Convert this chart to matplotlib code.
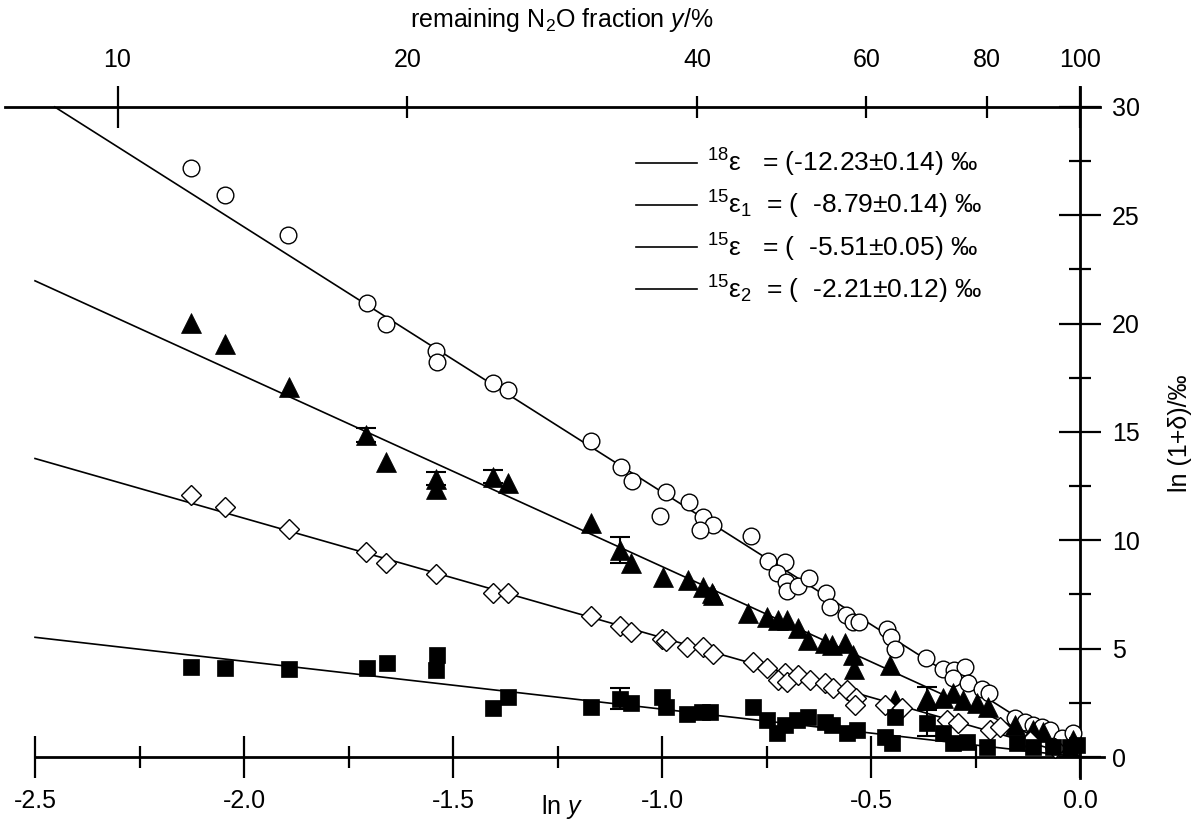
import numpy as np
import matplotlib
matplotlib.use("Agg")
import matplotlib.pyplot as plt
from matplotlib.lines import Line2D

plt.rcParams['font.family'] = ['Liberation Sans', 'DejaVu Sans']
plt.rcParams['mathtext.fontset'] = 'custom'
plt.rcParams['mathtext.rm'] = 'Liberation Sans'
plt.rcParams['mathtext.it'] = 'Liberation Sans:italic'
plt.rcParams['mathtext.default'] = 'regular'

# ---------------- data ----------------
o18_x = [-2.127, -2.045, -1.894, -1.706, -1.660, -1.541, -1.539, -1.405, -1.368, -1.171,
         -1.099, -1.072, -0.991, -1.005, -0.936, -0.903, -0.877, -0.909, -0.786, -0.747,
         -0.706, -0.724, -0.703, -0.702, -0.674, -0.648, -0.608, -0.598, -0.561, -0.542,
         -0.528, -0.462, -0.451, -0.443, -0.369, -0.327, -0.301, -0.275, -0.303, -0.267,
         -0.235, -0.217, -0.156, -0.132, -0.112, -0.092, -0.072, -0.044, -0.016]
o18_v = [27.17, 25.93, 24.09, 20.94, 19.98, 18.75, 18.21, 17.24, 16.94, 14.60,
         13.40, 12.74, 12.21, 11.14, 11.78, 11.06, 10.71, 10.48, 10.18, 9.06,
         9.01, 8.51, 8.09, 7.68, 7.89, 8.25, 7.58, 6.91, 6.55, 6.24,
         6.24, 5.89, 5.55, 4.97, 4.55, 4.05, 4.01, 4.17, 3.63, 3.40,
         3.12, 2.97, 1.78, 1.63, 1.48, 1.40, 1.25, 0.86, 1.09]

n15a_x = [-2.127, -2.045, -1.893, -1.709, -1.660, -1.541, -1.541, -1.405, -1.368, -1.171,
          -1.100, -1.074, -0.997, -0.939, -0.901, -0.881, -0.877, -0.794, -0.750, -0.722,
          -0.702, -0.674, -0.650, -0.610, -0.594, -0.562, -0.542, -0.541, -0.455, -0.443,
          -0.367, -0.327, -0.303, -0.279, -0.247, -0.219, -0.156, -0.112, -0.088, -0.016]
n15a_v = [20.01, 19.06, 17.06, 14.86, 13.63, 12.85, 12.35, 12.94, 12.63, 10.78,
          9.55, 8.94, 8.32, 8.17, 7.86, 7.55, 7.48, 6.63, 6.47, 6.32,
          6.32, 5.94, 5.40, 5.25, 5.17, 5.25, 4.71, 4.05, 4.25, 2.63,
          2.71, 2.71, 2.94, 2.63, 2.48, 2.32, 1.48, 1.25, 1.17, 0.78]

n15_x = [-2.127, -2.045, -1.893, -1.709, -1.660, -1.541, -1.405, -1.368, -1.171, -1.100,
         -1.074, -1.000, -0.990, -0.940, -0.901, -0.877, -0.782, -0.750, -0.706, -0.722,
         -0.702, -0.674, -0.646, -0.610, -0.590, -0.558, -0.536, -0.538, -0.467, -0.427,
         -0.319, -0.291, -0.215, -0.191, -0.120, -0.060]
n15_v = [12.09, 11.55, 10.51, 9.45, 8.94, 8.43, 7.55, 7.58, 6.51, 6.05,
         5.75, 5.45, 5.35, 5.10, 5.09, 4.75, 4.40, 4.09, 3.86, 3.55,
         3.47, 3.78, 3.55, 3.40, 3.17, 3.09, 2.71, 2.40, 2.40, 2.25,
         1.71, 1.55, 1.25, 1.40, 0.75, 0.40]

n15b_x = [-2.127, -2.045, -1.893, -1.706, -1.659, -1.539, -1.541, -1.405, -1.368, -1.171,
          -1.100, -1.074, -1.000, -0.990, -0.940, -0.905, -0.885, -0.782, -0.750, -0.726,
          -0.706, -0.678, -0.650, -0.610, -0.594, -0.558, -0.534, -0.467, -0.450, -0.443,
          -0.367, -0.327, -0.303, -0.271, -0.223, -0.151, -0.112, -0.064, -0.024, -0.008]
n15b_v = [4.17, 4.09, 4.05, 4.09, 4.32, 4.71, 4.01, 2.25, 2.75, 2.30,
          2.70, 2.50, 2.75, 2.30, 2.00, 2.10, 2.10, 2.32, 1.71, 1.09,
          1.48, 1.71, 1.86, 1.63, 1.48, 1.09, 1.25, 0.94, 0.63, 1.86,
          1.55, 1.09, 0.63, 0.71, 0.48, 0.63, 0.48, 0.48, 0.48, 0.55]

# error bars (only a few points carry them)
n15a_err_x = [-1.709, -1.541, -1.405, -1.100, -0.367]
n15a_err_v = [14.86, 12.85, 12.94, 9.55, 2.71]
n15a_err = [0.30, 0.30, 0.30, 0.60, 0.50]
n15b_err_x = [-1.100, -0.367]
n15b_err_v = [2.70, 1.55]
n15b_err = [0.50, 0.60]

# fractionation factors (per mil) for the fitted lines
eps_values = [-12.23, -8.79, -5.51, -2.21]
eps_labels = [r"$^{18}$ε   = (-12.23±0.14) ‰",
              r"$^{15}$ε$_1$  = (  -8.79±0.14) ‰",
              r"$^{15}$ε   = (  -5.51±0.05) ‰",
              r"$^{15}$ε$_2$  = (  -2.21±0.12) ‰"]

bottom_ticks = [-2.5, -2.0, -1.5, -1.0, -0.5, 0.0]
bottom_minor = [-2.25, -1.75, -1.25, -0.75, -0.25]
right_ticks = [0, 5, 10, 15, 20, 25, 30]
right_minor = [2.5, 7.5, 12.5, 17.5, 22.5, 27.5]
top_major_pct = [10, 100]
top_minor_pct = [20, 40, 60, 80]

# ---------------- figure ----------------
fig = plt.figure(figsize=(11.94, 8.25), dpi=100)
RECT = [0.001307, 0.04824, 0.93823, 0.8537]
XLIM = (-2.58, 0.1)
YLIM = (-1.3, 31.2)
LW_SP = 2.0
MAJ, MIN = 30, 16
FS = 18

# top axis (remaining fraction in %), separate axes underneath the main one
axt = fig.add_axes(RECT, label="top")
axt.patch.set_visible(False)
axt.set_xlim(XLIM)
axt.set_ylim(YLIM)
for s in ('left', 'right', 'bottom'):
    axt.spines[s].set_visible(False)
axt.spines['top'].set_position(('data', 30))
axt.spines['top'].set_bounds(-2.572, 0.048)
axt.spines['top'].set_linewidth(LW_SP)
axt.yaxis.set_visible(False)
axt.xaxis.set_ticks_position('top')
axt.xaxis.set_label_position('top')
axt.set_xticks(np.log(np.array(top_major_pct) / 100.0), labels=[str(p) for p in top_major_pct])
axt.set_xticks(np.log(np.array(top_minor_pct) / 100.0), labels=[str(p) for p in top_minor_pct], minor=True)
axt.tick_params(which='major', direction='inout', length=MAJ, width=1.6, labelsize=FS, pad=10)
axt.tick_params(which='minor', direction='inout', length=MIN, width=1.6, labelsize=FS,
                pad=10 + (MAJ - MIN) / 2)
axt.set_xlabel(r"remaining N$_2$O fraction $\mathit{y}$/%", fontsize=FS, labelpad=15)

# main axes
ax = fig.add_axes(RECT, label="main")
ax.patch.set_visible(False)
ax.set_xlim(XLIM)
ax.set_ylim(YLIM)
ax.spines['left'].set_visible(False)
ax.spines['top'].set_visible(False)
ax.spines['bottom'].set_position(('data', 0))
ax.spines['bottom'].set_bounds(-2.5, 0.057)
ax.spines['right'].set_position(('data', 0))
ax.spines['right'].set_bounds(-0.97, 30.9)
for s in ('bottom', 'right'):
    ax.spines[s].set_linewidth(LW_SP)

# fitted lines (ln(1+delta) = eps * ln y), clipped at the 30 permil border
handles = []
for e in eps_values:
    x0 = max(-2.5, 30.0 / e)
    xs = np.linspace(x0, 0.0, 200)
    ax.plot(xs, e * xs, color='black', lw=1.2, zorder=2)
    handles.append(Line2D([], [], color='black', lw=1.2))

# data points
ax.plot(o18_x, o18_v, 'o', ms=12, mfc='white', mec='black', mew=1.0, zorder=3)
ax.errorbar(n15a_err_x, n15a_err_v, yerr=n15a_err, fmt='none', ecolor='black',
            elinewidth=1.5, capsize=7, capthick=1.5, zorder=3)
ax.plot(n15a_x, n15a_v, '^', ms=14.5, mfc='black', mec='black', mew=0.5, zorder=4)
ax.plot(n15_x, n15_v, 'D', ms=10, mfc='white', mec='black', mew=1.0, zorder=5)
ax.errorbar(n15b_err_x, n15b_err_v, yerr=n15b_err, fmt='none', ecolor='black',
            elinewidth=1.5, capsize=7, capthick=1.5, zorder=5)
ax.plot(n15b_x, n15b_v, 's', ms=12, mfc='black', mec='black', mew=0.5, zorder=6)

ax.set_xlim(XLIM)
ax.set_ylim(YLIM)

# ticks
ax.xaxis.set_ticks_position('bottom')
ax.set_xticks(bottom_ticks)
ax.set_xticklabels([f"{t:.1f}" for t in bottom_ticks])
ax.set_xticks(bottom_minor, minor=True)
ax.yaxis.set_ticks_position('right')
ax.yaxis.set_label_position('right')
ax.set_yticks(right_ticks)
ax.set_yticklabels([str(t) for t in right_ticks])
ax.set_yticks(right_minor, minor=True)
ax.tick_params(axis='both', which='major', direction='inout', length=MAJ, width=1.6,
               labelsize=FS, pad=8)
ax.tick_params(axis='both', which='minor', direction='inout', length=MIN, width=1.6)
ax.tick_params(axis='y', which='both', right=True, left=False, labelright=True, labelleft=False)

ax.set_xlabel(r"ln $\mathit{y}$", fontsize=FS)
ax.xaxis.set_label_coords(0.5, -0.011)
ax.set_ylabel("ln (1+δ)/‰", fontsize=FS, labelpad=20)

ax.legend(handles, eps_labels, loc='upper left',
          bbox_to_anchor=(636 / 1194, 1 - 147 / 825), bbox_transform=fig.transFigure,
          frameon=False, fontsize=19, handlelength=2.3, handletextpad=0.4,
          labelspacing=0.38, borderpad=0, borderaxespad=0)

fig.savefig("out.png", dpi=100)
